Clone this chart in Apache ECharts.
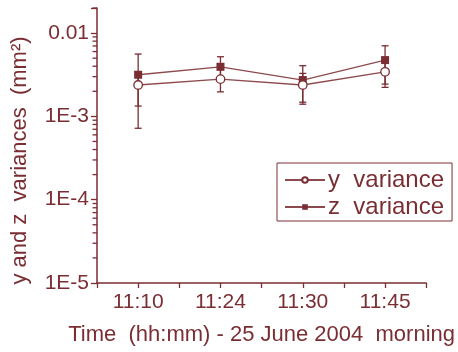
<!DOCTYPE html>
<html><head><meta charset="utf-8">
<script src="https://cdn.jsdelivr.net/npm/echarts@6/dist/echarts.min.js"></script>
<style>html,body{margin:0;padding:0;background:#fff}#c{width:458px;height:352px}</style>
</head><body><div id="c"></div>
<script>
var categories = ['11:10', '11:24', '11:30', '11:45'];
var yVariance = [2.38e-3, 2.8e-3, 2.38e-3, 3.43e-3];
var yErr = [1.05e-3, 0.83e-3, 0.9e-3, 1.2e-3];
var zVariance = [3.16e-3, 3.94e-3, 2.73e-3, 4.74e-3];
var zErr = [2.44e-3, 1.26e-3, 1.33e-3, 2.3e-3];
var yTickValues = [1e-5, 1e-4, 1e-3, 1e-2];
var yTickLabels = ['1E-5', '1E-4', '1E-3', '0.01'];
var yMinorMultipliers = [2, 3, 4, 5, 6, 7, 8, 9];

var C = '#7a2e33';
var LC = '#8d4a4e';
var FONT = 'Liberation Sans, Arial, sans-serif';
var Y_MIN = 1e-5, Y_MAX = 0.02, X_MIN = 0.5, X_MAX = 4.5;

function pts(vals){ return vals.map(function(v,i){ return [i+1, v]; }); }
function errData(vals, errs){ return vals.map(function(v,i){ return [i+1, v, v-errs[i], v+errs[i]]; }); }

// minor tick positions of the log axis (axis decoration)
var minorTickValues = [];
yTickValues.forEach(function(d){
  yMinorMultipliers.forEach(function(m){ var v = d*m; if (v <= Y_MAX*1.0001) minorTickValues.push(v); });
});

function errRender(params, api){
  var x = api.value(0);
  var lo = api.coord([x, api.value(2)]);
  var hi = api.coord([x, api.value(3)]);
  var w = 3.5;
  var st = {stroke: C, lineWidth: 1.3};
  return {type:'group', children:[
    {type:'line', shape:{x1:lo[0], y1:lo[1], x2:hi[0], y2:hi[1]}, style:st},
    {type:'line', shape:{x1:lo[0]-w, y1:lo[1], x2:lo[0]+w, y2:lo[1]}, style:st},
    {type:'line', shape:{x1:hi[0]-w, y1:hi[1], x2:hi[0]+w, y2:hi[1]}, style:st}
  ]};
}

var chart = echarts.init(document.getElementById('c'), null, {renderer:'canvas'});
chart.setOption({
  animation: false,
  textStyle: {fontFamily: FONT, color: C},
  grid: {left: 97, right: 30, top: 8, bottom: 69},
  legend: {
    orient: 'vertical', left: 277, top: 163,
    borderColor: C, borderWidth: 1, borderRadius: 0,
    padding: [5, 8, 2, 7], itemGap: 3, itemWidth: 40, itemHeight: 7,
    textStyle: {fontFamily: FONT, fontSize: 24, color: C, padding: [0, 0, 0, -2]},
    data: [{name: 'y  variance'}, {name: 'z  variance'}]
  },
  xAxis: {
    type: 'value', min: X_MIN, max: X_MAX, interval: 0.5,
    name: 'Time  (hh:mm) - 25 June 2004  morning', nameLocation: 'middle', nameGap: 41,
    nameTextStyle: {fontFamily: FONT, fontSize: 22, color: C},
    axisLine: {lineStyle: {color: C, width: 1.5}},
    axisTick: {length: 5, lineStyle: {color: C, width: 1.3}},
    axisLabel: {fontFamily: FONT, fontSize: 21, color: C, margin: 9,
      formatter: function(v){ var k = Math.round(v); return (Math.abs(v-k) < 1e-6 && k >= 1 && k <= categories.length) ? categories[k-1] : ''; }},
    splitLine: {show: false}
  },
  yAxis: {
    type: 'log', logBase: 10, min: Y_MIN, max: Y_MAX,
    name: 'y and z  variances  (mm²)', nameLocation: 'middle', nameGap: 66, nameRotate: 90,
    nameTextStyle: {fontFamily: FONT, fontSize: 22, color: C, padding: [0, 30, 0, 0]},
    axisLine: {show: true, lineStyle: {color: C, width: 1.5}},
    axisTick: {length: 6, lineStyle: {color: C, width: 1.3}},
    axisLabel: {fontFamily: FONT, fontSize: 21, color: C, margin: 8,
      formatter: function(v){ for (var i=0;i<yTickValues.length;i++){ if (Math.abs(Math.log10(v)-Math.log10(yTickValues[i]))<1e-6) return yTickLabels[i]; } return ''; }},
    splitLine: {show: false}
  },
  series: [
    {type:'custom', name:'zerr', renderItem: errRender, data: errData(zVariance, zErr), z: 1, silent: true},
    {type:'custom', name:'yerr', renderItem: errRender, data: errData(yVariance, yErr), z: 1, silent: true},
    {type:'line', name:'z  variance', data: pts(zVariance), symbol:'rect', symbolSize: 8,
      itemStyle:{color: C}, lineStyle:{color: LC, width: 1.3}, z: 3},
    {type:'line', name:'y  variance', data: pts(yVariance), symbol:'circle', symbolSize: 8.5,
      itemStyle:{color: '#fff', borderColor: C, borderWidth: 1.3}, lineStyle:{color: LC, width: 1.3}, z: 3}
  ]
});

// log-axis minor ticks, positioned through the axis scale
var axisX = chart.convertToPixel({xAxisIndex: 0}, X_MIN);
chart.setOption({
  graphic: minorTickValues.map(function(v){
    var py = chart.convertToPixel({yAxisIndex: 0}, v);
    return {type: 'line', silent: true, z: 10,
      shape: {x1: axisX - 4.5, y1: py, x2: axisX, y2: py},
      style: {stroke: C, lineWidth: 1.3}};
  })
});
</script></body></html>
